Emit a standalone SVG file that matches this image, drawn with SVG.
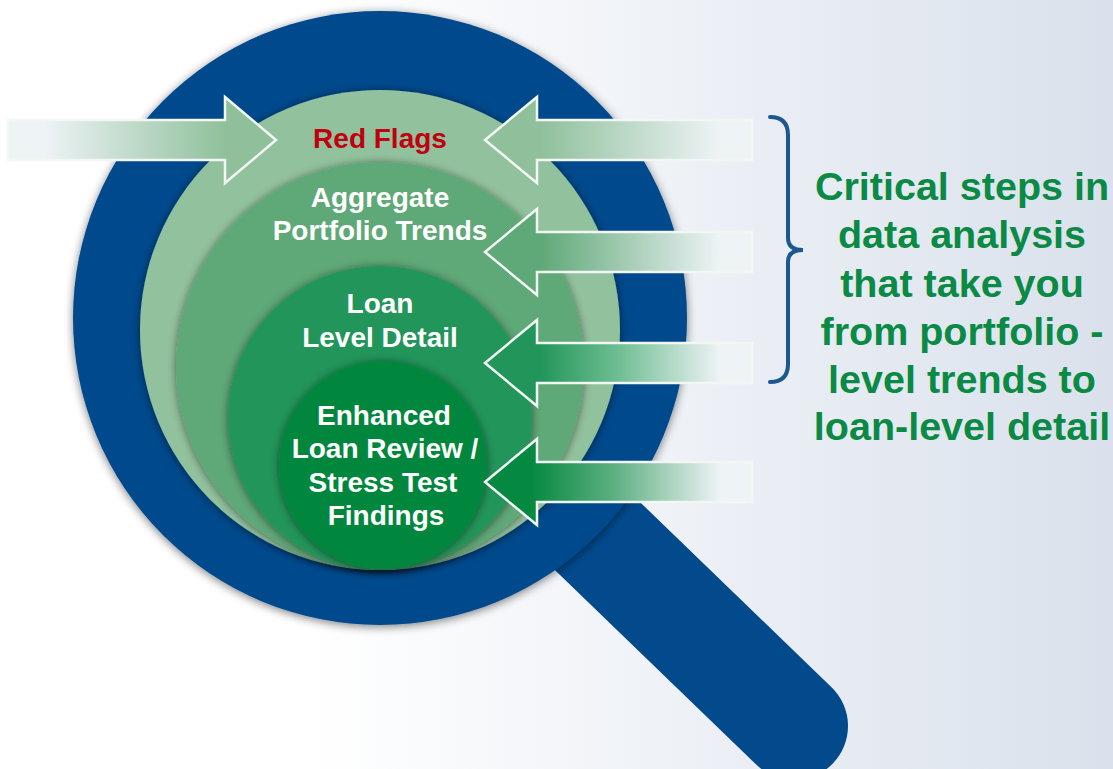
<svg xmlns="http://www.w3.org/2000/svg" width="1113" height="769" viewBox="0 0 1113 769">
  <defs>
    <style>
      .lbl { font-family: "Liberation Sans", Arial, sans-serif; font-weight: bold; text-anchor: middle; }
      .inner { font-size: 28px; fill: #ffffff; }
      .flag { font-size: 28px; fill: #c0000f; }
      .side { font-size: 39.5px; fill: #0a8a44; }
      .arrow { stroke: #f3f7f3; stroke-width: 2.5; stroke-linejoin: miter; }
    </style>
    <linearGradient id="bg" x1="0" y1="0" x2="1113" y2="0" gradientUnits="userSpaceOnUse">
      <stop offset="0.28" stop-color="#ffffff"/>
      <stop offset="1" stop-color="#dae1ec"/>
    </linearGradient>
    <filter id="ringShadow" x="-20%" y="-20%" width="140%" height="140%">
      <feGaussianBlur in="SourceAlpha" stdDeviation="5"/>
      <feOffset dx="0" dy="2"/>
      <feComponentTransfer><feFuncA type="linear" slope="0.5"/></feComponentTransfer>
      <feMerge><feMergeNode/><feMergeNode in="SourceGraphic"/></feMerge>
    </filter>
    <filter id="discShadow" x="-20%" y="-20%" width="140%" height="140%">
      <feGaussianBlur in="SourceAlpha" stdDeviation="4"/>
      <feOffset dx="0" dy="1"/>
      <feComponentTransfer><feFuncA type="linear" slope="0.5"/></feComponentTransfer>
      <feMerge><feMergeNode/><feMergeNode in="SourceGraphic"/></feMerge>
    </filter>
    <!-- arrow fills: pale tail fading into the level colour at the head -->
    <linearGradient id="inFlags" x1="45" y1="0" x2="225" y2="0" gradientUnits="userSpaceOnUse">
      <stop offset="0" stop-color="#eef3f6"/>
      <stop offset="1" stop-color="#8fc09b"/>
    </linearGradient>
    <linearGradient id="gFlags" x1="540" y1="0" x2="720" y2="0" gradientUnits="userSpaceOnUse">
      <stop offset="0" stop-color="#8fc09b"/>
      <stop offset="1" stop-color="#eef3f6"/>
    </linearGradient>
    <linearGradient id="gTrends" x1="540" y1="0" x2="720" y2="0" gradientUnits="userSpaceOnUse">
      <stop offset="0" stop-color="#5fa877"/>
      <stop offset="1" stop-color="#eef3f6"/>
    </linearGradient>
    <linearGradient id="gDetail" x1="540" y1="0" x2="720" y2="0" gradientUnits="userSpaceOnUse">
      <stop offset="0" stop-color="#22965a"/>
      <stop offset="0.45" stop-color="#72bf95"/>
      <stop offset="1" stop-color="#eef3f6"/>
    </linearGradient>
    <linearGradient id="gReview" x1="530" y1="0" x2="720" y2="0" gradientUnits="userSpaceOnUse">
      <stop offset="0" stop-color="#05883f"/>
      <stop offset="0.45" stop-color="#5fb083"/>
      <stop offset="1" stop-color="#eef3f6"/>
    </linearGradient>
  </defs>

  <rect x="0" y="0" width="1113" height="769" fill="url(#bg)"/>

  <!-- magnifier: handle, then lens ring -->
  <g id="magnifier">
    <line x1="470" y1="413" x2="794" y2="726" stroke="#024a8c" stroke-width="108" stroke-linecap="round"/>
    <circle cx="380" cy="318" r="307" fill="#024a8c" filter="url(#ringShadow)"/>
  </g>

  <g id="level-red-flags">
    <circle cx="380" cy="330" r="240" fill="#92c19d" filter="url(#discShadow)"/>
  </g>
  <g id="level-portfolio-trends">
    <circle cx="380" cy="366" r="204" fill="#5fa877" filter="url(#discShadow)"/>
  </g>
  <g id="level-loan-detail">
    <circle cx="380" cy="418" r="152" fill="#21955a" filter="url(#discShadow)"/>
  </g>
  <g id="level-enhanced-review">
    <circle cx="383" cy="465" r="104" fill="#04873e" filter="url(#discShadow)"/>
  </g>

  <!-- block arrows feeding each level -->
  <g id="connectors">
    <polygon class="arrow" fill="url(#inFlags)" points="8,120 225,120 225,97 276,140 225,183 225,160 8,160"/>
    <polygon class="arrow" fill="url(#gFlags)" points="752,120 537,120 537,97 485,140 537,183 537,160 752,160"/>
    <polygon class="arrow" fill="url(#gTrends)" points="752,232 537,232 537,209 485,252 537,295 537,272 752,272"/>
    <polygon class="arrow" fill="url(#gDetail)" points="752,343 537,343 537,320 485,363 537,406 537,383 752,383"/>
    <polygon class="arrow" fill="url(#gReview)" points="752,462 537,462 537,439 485,482 537,525 537,502 752,502"/>
  </g>

  <g id="labels">
    <text class="lbl flag" x="380" y="148">Red Flags</text>
    <text class="lbl inner" x="380" y="207">Aggregate</text>
    <text class="lbl inner" x="380" y="240">Portfolio Trends</text>
    <text class="lbl inner" x="380" y="313">Loan</text>
    <text class="lbl inner" x="380" y="347">Level Detail</text>
    <text class="lbl inner" x="384" y="425">Enhanced</text>
    <text class="lbl inner" x="385" y="458">Loan Review /</text>
    <text class="lbl inner" x="383" y="492">Stress Test</text>
    <text class="lbl inner" x="386" y="525">Findings</text>
  </g>

  <g id="summary">
    <path d="M770,117 Q788,117 788,135 L788,238 Q788,250 803,250 Q788,250 788,262 L788,364 Q788,382 770,382" fill="none" stroke="#1d5790" stroke-width="4" stroke-linecap="round"/>
    <text class="lbl side" x="962" y="200">Critical steps in</text>
    <text class="lbl side" x="962" y="248">data analysis</text>
    <text class="lbl side" x="962" y="297">that take you</text>
    <text class="lbl side" x="962" y="345">from portfolio -</text>
    <text class="lbl side" x="962" y="393">level trends to</text>
    <text class="lbl side" x="962" y="440">loan-level detail</text>
  </g>
</svg>
